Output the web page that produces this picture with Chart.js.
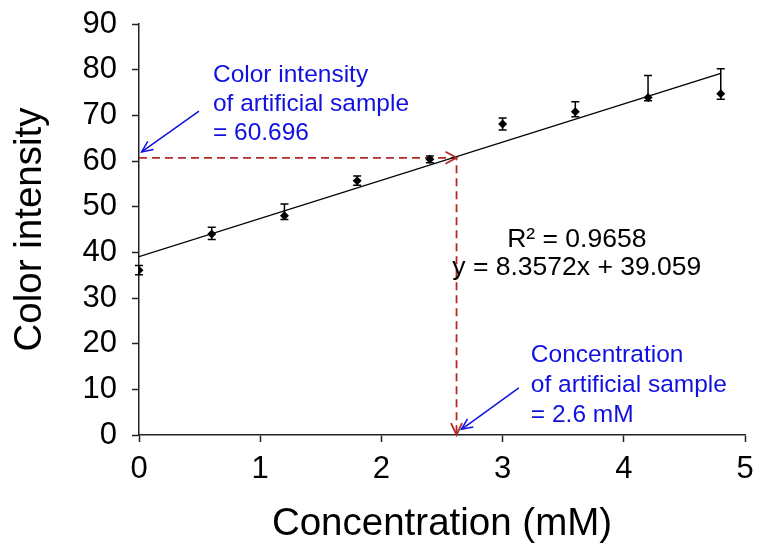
<!DOCTYPE html>
<html>
<head>
<meta charset="utf-8">
<script src="https://cdn.jsdelivr.net/npm/chart.js@4.4.1/dist/chart.umd.min.js"></script>
<style>
  html, body { margin: 0; padding: 0; background: #fff; }
  #wrap { width: 757px; height: 549px; position: relative; }
</style>
</head>
<body>
<div id="wrap"><canvas id="c"></canvas></div>
<script>
// ---- data
const concX    = [0, 0.6, 1.2, 1.8, 2.4, 3.0, 3.6, 4.2, 4.8];
const intensity = [36.1, 44.0, 48.0, 55.7, 60.4, 68.1, 70.8, 73.9, 74.7];
const errUp    = [1.0, 1.5, 2.6, 1.0, 0.7, 1.3, 2.2, 4.8, 5.5];
const errDown  = [1.0, 1.2, 0.8, 1.0, 0.8, 1.3, 1.1, 0.7, 1.2];

// linear trend line end points (y = 8.3572x + 39.059)
const trendX = [0, 4.8];
const trendY = [39.06, 79.17];

// read-back guide: sample intensity → concentration
const guideX = [0, 2.62, 2.62];
const guideY = [60.696, 60.696, 0];

// blue callout arrows [fromX, fromY, toX, toY] in data units
const arrowIntensity = [0.495, 70.9, 0.022, 62.0];
const arrowConc      = [3.134, 10.3, 2.661, 1.25];

// callout texts
const noteIntensity = ["Color intensity", "of artificial sample", "= 60.696"];
const noteIntensityAt = [0.61, [77.3, 70.9, 64.6]];
const noteConc = ["Concentration", "of artificial sample", "= 2.6 mM"];
const noteConcAt = [3.233, [16.05, 9.48, 2.91]];
const eqText = ["R\u00b2 = 0.9658", "y = 8.3572x + 39.059"];
const eqAt = [3.612, [41.23, 35.03]];

const xTicks = { min: 0, max: 5, step: 1 };
const yTicks = { min: 0, max: 90, step: 10 };

const FONT = "'Liberation Sans', Arial, sans-serif";
const BLUE = "#1010e0";
const RED = "#b22a2a";

// ---- extras drawn through the chart's scales
const extras = {
  id: "extras",
  beforeDatasetsDraw(chart) {
    const { ctx, scales: { x, y } } = chart;
    ctx.save();
    ctx.strokeStyle = "#000";
    ctx.lineWidth = 1.5;
    concX.forEach((cx, i) => {
      const px = x.getPixelForValue(cx);
      const top = y.getPixelForValue(intensity[i] + errUp[i]);
      const bot = y.getPixelForValue(intensity[i] - errDown[i]);
      ctx.beginPath();
      ctx.moveTo(px, top); ctx.lineTo(px, bot);
      ctx.moveTo(px - 4, top); ctx.lineTo(px + 4, top);
      ctx.moveTo(px - 4, bot); ctx.lineTo(px + 4, bot);
      ctx.stroke();
    });
    ctx.restore();
  },
  afterDatasetsDraw(chart) {
    const { ctx, scales: { x, y } } = chart;
    ctx.save();
    // open chevron heads
    const chevron = (tx, ty, ang, len, half, color, lw) => {
      ctx.strokeStyle = color; ctx.lineWidth = lw;
      ctx.beginPath();
      const bx = tx - len * Math.cos(ang), by = ty - len * Math.sin(ang);
      const nx = -Math.sin(ang) * half, ny = Math.cos(ang) * half;
      ctx.moveTo(bx + nx, by + ny); ctx.lineTo(tx, ty); ctx.lineTo(bx - nx, by - ny);
      ctx.stroke();
    };
    const hx = x.getPixelForValue(guideX[1]), hy = y.getPixelForValue(guideY[1]);
    chevron(hx, hy, 0, 11, 6, RED, 1.8);
    const vx = x.getPixelForValue(guideX[2]), vy = y.getPixelForValue(guideY[2]);
    chevron(vx, vy, Math.PI / 2, 12, 5.5, RED, 1.8);

    // blue callout arrows
    [arrowIntensity, arrowConc].forEach(a => {
      const x0 = x.getPixelForValue(a[0]), y0 = y.getPixelForValue(a[1]);
      const x1 = x.getPixelForValue(a[2]), y1 = y.getPixelForValue(a[3]);
      ctx.strokeStyle = BLUE; ctx.lineWidth = 1.5;
      ctx.beginPath(); ctx.moveTo(x0, y0); ctx.lineTo(x1, y1); ctx.stroke();
      chevron(x1, y1, Math.atan2(y1 - y0, x1 - x0), 11, 5, BLUE, 1.5);
    });

    // texts
    ctx.textBaseline = "alphabetic";
    ctx.font = "24.5px " + FONT;
    ctx.fillStyle = BLUE;
    ctx.textAlign = "left";
    noteIntensity.forEach((t, i) =>
      ctx.fillText(t, x.getPixelForValue(noteIntensityAt[0]), y.getPixelForValue(noteIntensityAt[1][i])));
    noteConc.forEach((t, i) =>
      ctx.fillText(t, x.getPixelForValue(noteConcAt[0]), y.getPixelForValue(noteConcAt[1][i])));
    ctx.font = "26.5px " + FONT;
    ctx.fillStyle = "#000";
    ctx.textAlign = "center";
    eqText.forEach((t, i) =>
      ctx.fillText(t, x.getPixelForValue(eqAt[0]), y.getPixelForValue(eqAt[1][i])));
    ctx.restore();
  }
};

const axisCommon = {
  grid: { drawOnChartArea: false, drawTicks: true, tickLength: 7, tickWidth: 1.5, tickColor: "#222" },
  border: { display: true, color: "#222", width: 1.5 },
};

new Chart(document.getElementById("c"), {
  type: "scatter",
  data: {
    datasets: [
      { label: "trend", data: trendX.map((v, i) => ({ x: v, y: trendY[i] })),
        showLine: true, borderColor: "#000", borderWidth: 1.3, pointRadius: 0, order: 2 },
      { label: "guide", data: guideX.map((v, i) => ({ x: v, y: guideY[i] })),
        showLine: true, borderColor: RED, borderWidth: 1.8, borderDash: [8, 5],
        pointRadius: 0, order: 3 },
      { label: "samples", data: concX.map((v, i) => ({ x: v, y: intensity[i] })),
        pointStyle: "rectRot", pointRadius: 4.5, backgroundColor: "#000", borderColor: "#000",
        borderWidth: 0, order: 1 },
    ],
  },
  options: {
    responsive: true, maintainAspectRatio: false, animation: false,
    layout: { padding: { top: 24, right: 12, left: 0, bottom: 0 } },
    plugins: { legend: { display: false }, tooltip: { enabled: false } },
    scales: {
      x: {
        ...axisCommon,
        type: "linear", min: xTicks.min, max: xTicks.max,
        ticks: { stepSize: xTicks.step, color: "#000", padding: 9, font: { family: FONT, size: 31 } },
        title: { display: true, text: "Concentration (mM)", color: "#000",
                 font: { family: FONT, size: 38.5 }, padding: { top: 0, bottom: 2 } },
        afterFit: s => { s.height = 114; s.paddingLeft = 0; s.paddingRight = 0; },
      },
      y: {
        ...axisCommon,
        type: "linear", min: yTicks.min, max: yTicks.max,
        ticks: { stepSize: yTicks.step, color: "#000", padding: 15, font: { family: FONT, size: 31 } },
        title: { display: true, text: "Color intensity", color: "#000",
                 font: { family: FONT, size: 38.5 }, padding: { top: 7, bottom: 0 } },
        afterFit: s => { s.width = 139; s.paddingTop = 0; s.paddingBottom = 0; },
      },
    },
  },
  plugins: [extras],
});
</script>
</body>
</html>
